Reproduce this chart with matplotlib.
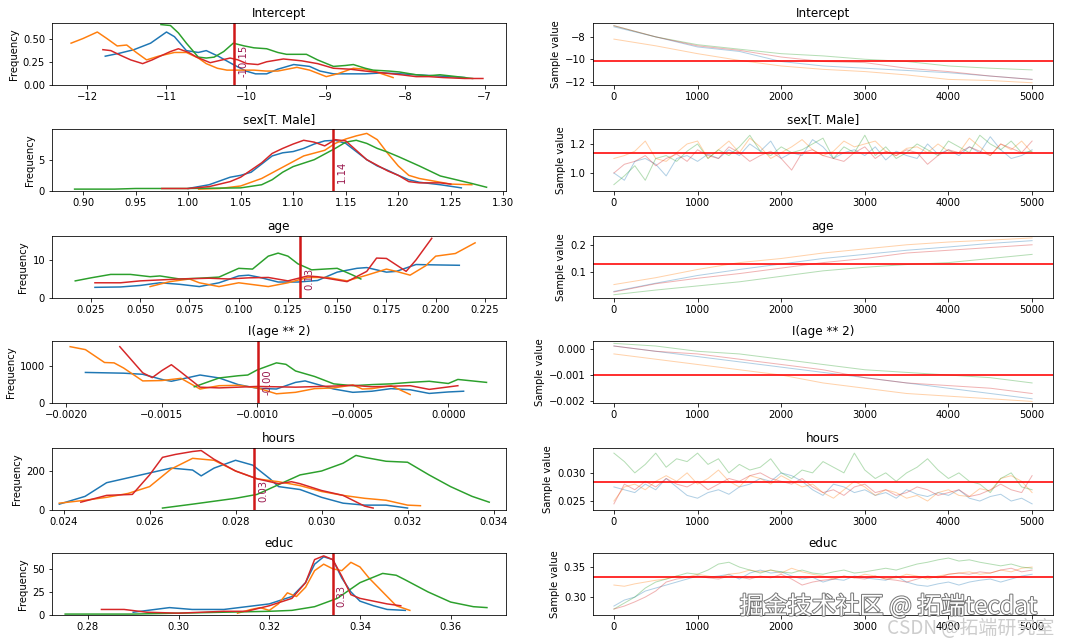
import numpy as np
import matplotlib.pyplot as plt
import matplotlib.patheffects as pe

# variable names and posterior means
names = ['Intercept', 'sex[T. Male]', 'age', 'I(age ** 2)', 'hours', 'educ']
means = [-10.15, 1.138, 0.1312, -0.000994, 0.02844, 0.334]
labels = ['-10.15', '1.14', '0.13', '-0.00', '0.03', '0.33']
colors = ['C0', 'C1', 'C2', 'C3']
age_ticks = [0.025, 0.050, 0.075, 0.100, 0.125, 0.150, 0.175, 0.200, 0.225]

# KDE curves, one (x, y) pair of lists per chain
intercept_kde = [
    ([-11.77, -11.6, -11.41, -11.2, -11.0, -10.9, -10.75, -10.6, -10.5, -10.35, -10.16, -10.0, -9.88, -9.74, -9.6, -9.4, -9.2, -9.07, -8.9, -8.69, -8.5, -8.28, -8.05, -7.86, -7.65, -7.45, -7.25],
     [0.31, 0.34, 0.38, 0.45, 0.57, 0.52, 0.37, 0.35, 0.37, 0.31, 0.22, 0.15, 0.12, 0.12, 0.17, 0.22, 0.20, 0.15, 0.12, 0.12, 0.12, 0.13, 0.12, 0.11, 0.10, 0.09, 0.08]),
    ([-12.2, -12.05, -11.87, -11.75, -11.62, -11.5, -11.38, -11.25, -11.1, -10.9, -10.75, -10.6, -10.5, -10.36, -10.24, -10.05, -9.9, -9.75, -9.6, -9.36, -9.2, -8.99, -8.85, -8.65, -8.5, -8.36, -8.15],
     [0.45, 0.50, 0.57, 0.50, 0.42, 0.43, 0.35, 0.27, 0.31, 0.35, 0.35, 0.29, 0.23, 0.18, 0.16, 0.16, 0.16, 0.15, 0.15, 0.19, 0.16, 0.09, 0.12, 0.18, 0.17, 0.14, 0.08]),
    ([-11.07, -10.95, -10.85, -10.75, -10.65, -10.6, -10.5, -10.4, -10.28, -10.16, -10.02, -9.9, -9.74, -9.6, -9.49, -9.36, -9.24, -9.1, -8.9, -8.75, -8.65, -8.5, -8.4, -8.2, -8.07, -7.86, -7.7, -7.56, -7.35, -7.15],
     [0.65, 0.64, 0.56, 0.45, 0.35, 0.30, 0.29, 0.30, 0.36, 0.45, 0.42, 0.40, 0.39, 0.35, 0.33, 0.33, 0.33, 0.27, 0.20, 0.21, 0.22, 0.18, 0.16, 0.15, 0.14, 0.11, 0.10, 0.11, 0.09, 0.07]),
    ([-11.8, -11.7, -11.58, -11.45, -11.3, -11.18, -11.08, -10.95, -10.85, -10.72, -10.62, -10.45, -10.3, -10.2, -10.1, -9.99, -9.85, -9.74, -9.6, -9.53, -9.3, -9.1, -8.9, -8.69, -8.5, -8.28, -8.05, -7.86, -7.7, -7.52, -7.25, -7.02],
     [0.38, 0.37, 0.32, 0.27, 0.23, 0.27, 0.31, 0.36, 0.39, 0.35, 0.30, 0.24, 0.27, 0.29, 0.27, 0.23, 0.22, 0.25, 0.27, 0.28, 0.26, 0.23, 0.18, 0.17, 0.15, 0.13, 0.11, 0.09, 0.09, 0.08, 0.07, 0.07]),
]
sex_kde = [
    ([1.00, 1.02, 1.03, 1.04, 1.05, 1.06, 1.07, 1.08, 1.09, 1.10, 1.11, 1.12, 1.13, 1.14, 1.15, 1.16, 1.17, 1.18, 1.19, 1.20, 1.21, 1.22, 1.24, 1.26],
     [0.4, 1.0, 1.6, 2.2, 2.5, 3.0, 4.3, 5.6, 6.1, 6.3, 6.8, 7.5, 8.0, 8.1, 7.6, 6.3, 5.0, 4.0, 3.3, 2.5, 1.8, 1.4, 1.0, 0.5]),
    ([1.01, 1.03, 1.05, 1.07, 1.09, 1.11, 1.13, 1.14, 1.15, 1.16, 1.17, 1.18, 1.19, 1.20, 1.21, 1.22, 1.24, 1.25, 1.27],
     [0.3, 0.4, 0.8, 2.0, 3.8, 5.6, 6.5, 7.6, 8.3, 8.8, 9.2, 8.2, 6.0, 4.0, 2.5, 2.0, 1.4, 1.1, 1.0]),
    ([0.892, 0.91, 0.93, 0.95, 1.00, 1.05, 1.07, 1.08, 1.09, 1.10, 1.12, 1.14, 1.15, 1.16, 1.17, 1.18, 1.19, 1.20, 1.22, 1.24, 1.26, 1.27, 1.284],
     [0.3, 0.3, 0.3, 0.4, 0.4, 0.5, 1.0, 1.8, 3.0, 3.9, 5.0, 6.8, 7.8, 8.1, 7.6, 6.8, 6.2, 5.5, 4.0, 2.4, 1.6, 1.2, 0.6]),
    ([0.975, 1.00, 1.02, 1.04, 1.05, 1.07, 1.08, 1.09, 1.10, 1.11, 1.12, 1.13, 1.14, 1.15, 1.16, 1.17, 1.18, 1.19, 1.20, 1.21, 1.22, 1.24, 1.25],
     [0.4, 0.4, 0.7, 1.5, 2.2, 4.5, 6.0, 6.8, 7.5, 8.1, 7.8, 7.2, 8.2, 8.0, 6.5, 5.0, 4.1, 3.2, 2.5, 1.5, 1.3, 1.3, 1.1]),
]
age_kde = [
    ([0.027, 0.04, 0.05, 0.06, 0.07, 0.08, 0.09, 0.10, 0.105, 0.11, 0.12, 0.13, 0.14, 0.15, 0.16, 0.165, 0.175, 0.18, 0.19, 0.20, 0.212],
     [2.8, 2.9, 3.3, 4.0, 3.6, 3.0, 4.0, 5.8, 6.0, 5.5, 4.2, 4.2, 4.6, 6.8, 7.8, 8.0, 6.8, 7.0, 8.8, 8.7, 8.6]),
    ([0.055, 0.065, 0.075, 0.08, 0.09, 0.10, 0.115, 0.125, 0.135, 0.145, 0.155, 0.165, 0.175, 0.18, 0.187, 0.195, 0.20, 0.21, 0.22],
     [3.0, 4.3, 5.0, 4.0, 3.0, 4.0, 3.0, 4.0, 5.4, 5.4, 4.5, 6.0, 7.6, 7.0, 6.0, 8.5, 11.0, 11.7, 14.5]),
    ([0.017, 0.025, 0.035, 0.045, 0.055, 0.06, 0.07, 0.08, 0.09, 0.10, 0.107, 0.115, 0.12, 0.125, 0.13, 0.137, 0.15, 0.158, 0.162],
     [4.5, 5.3, 6.2, 6.2, 5.6, 5.8, 5.0, 5.2, 5.5, 7.8, 7.6, 11.0, 11.8, 11.0, 9.0, 7.4, 7.8, 6.0, 5.0]),
    ([0.027, 0.04, 0.05, 0.07, 0.085, 0.095, 0.105, 0.115, 0.125, 0.135, 0.14, 0.155, 0.165, 0.17, 0.175, 0.185, 0.19, 0.198],
     [4.0, 4.0, 4.5, 5.0, 5.2, 5.0, 5.3, 5.4, 4.5, 5.8, 5.6, 4.3, 7.0, 10.5, 10.4, 7.0, 10.0, 15.7]),
]
agesq_kde = [
    ([-0.0019, -0.0017, -0.0016, -0.0015, -0.00145, -0.0013, -0.0012, -0.0011, -0.001, -0.0009, -0.0008, -0.00075, -0.0006, -0.0005, -0.0004, -0.0003, -0.0002, -0.0001, 0.0, 0.00008],
     [830, 810, 780, 640, 590, 760, 680, 500, 400, 380, 560, 600, 380, 290, 320, 390, 360, 260, 300, 320]),
    ([-0.00198, -0.0019, -0.0018, -0.00175, -0.0017, -0.0016, -0.0015, -0.0014, -0.0013, -0.0012, -0.0011, -0.001, -0.0009, -0.0008, -0.0007, -0.0006, -0.0005, -0.00045, -0.0004, -0.0003, -0.0002],
     [1530, 1450, 1100, 1090, 950, 600, 610, 670, 380, 470, 480, 410, 250, 290, 390, 410, 490, 380, 390, 470, 230]),
    ([-0.00133, -0.0012, -0.0011, -0.00105, -0.001, -0.0009, -0.00085, -0.0008, -0.0007, -0.0006, -0.0005, -0.0004, -0.0003, -0.0002, -0.0001, 0.0, 0.00005, 0.0002],
     [440, 680, 740, 760, 900, 1090, 1050, 870, 720, 520, 470, 500, 520, 560, 590, 530, 640, 560]),
    ([-0.00172, -0.0016, -0.00155, -0.0015, -0.00145, -0.0014, -0.0013, -0.0012, -0.001, -0.0008, -0.0006, -0.0005, -0.0004, -0.0002, -0.0001, 0.00005],
     [1530, 820, 690, 880, 1040, 840, 430, 410, 450, 430, 460, 480, 440, 470, 370, 470]),
]
hours_kde = [
    ([0.0239, 0.0245, 0.0250, 0.0255, 0.026, 0.0265, 0.027, 0.0272, 0.0275, 0.028, 0.0284, 0.0288, 0.029, 0.0295, 0.030, 0.0305, 0.031, 0.0315, 0.032],
     [30, 70, 140, 165, 190, 215, 205, 175, 215, 255, 230, 160, 120, 105, 65, 35, 25, 25, 10]),
    ([0.0239, 0.0245, 0.025, 0.0255, 0.026, 0.0265, 0.027, 0.0275, 0.028, 0.0285, 0.029, 0.0295, 0.030, 0.0305, 0.031, 0.0315, 0.032, 0.0323],
     [35, 50, 65, 85, 120, 210, 265, 255, 200, 160, 145, 125, 95, 75, 60, 50, 25, 22]),
    ([0.0263, 0.027, 0.0275, 0.028, 0.0285, 0.029, 0.0295, 0.030, 0.0305, 0.0308, 0.031, 0.0315, 0.032, 0.0325, 0.033, 0.0335, 0.0339],
     [10, 30, 45, 60, 80, 130, 180, 200, 240, 280, 270, 250, 245, 180, 120, 70, 40]),
    ([0.0244, 0.025, 0.0256, 0.026, 0.0263, 0.0266, 0.027, 0.0272, 0.0275, 0.028, 0.0285, 0.029, 0.0293, 0.0295, 0.030, 0.0305, 0.031, 0.0312],
     [40, 75, 80, 180, 270, 285, 300, 305, 260, 200, 160, 135, 145, 135, 100, 75, 20, 10]),
]
educ_kde = [
    ([0.29, 0.298, 0.303, 0.31, 0.315, 0.32, 0.325, 0.328, 0.33, 0.332, 0.334, 0.336, 0.338, 0.34, 0.343, 0.346, 0.35],
     [3, 8, 6, 6, 9, 12, 20, 35, 55, 63, 60, 40, 25, 15, 10, 6, 5]),
    ([0.313, 0.316, 0.318, 0.32, 0.322, 0.324, 0.326, 0.328, 0.33, 0.332, 0.334, 0.336, 0.338, 0.34, 0.342, 0.344, 0.346, 0.348, 0.351],
     [2, 6, 8, 5, 12, 24, 20, 30, 48, 55, 50, 48, 57, 52, 40, 30, 20, 10, 5]),
    ([0.275, 0.29, 0.30, 0.31, 0.32, 0.325, 0.33, 0.335, 0.34, 0.345, 0.348, 0.35, 0.355, 0.36, 0.365, 0.368],
     [1, 1, 2, 3, 4, 5, 9, 18, 35, 45, 43, 38, 25, 14, 9, 8]),
    ([0.283, 0.288, 0.293, 0.30, 0.305, 0.31, 0.315, 0.32, 0.325, 0.328, 0.33, 0.332, 0.334, 0.336, 0.338, 0.34, 0.343, 0.346, 0.349],
     [6, 6, 3, 2, 3, 4, 4, 10, 18, 35, 60, 64, 60, 42, 22, 18, 15, 12, 10]),
]

# traces, sampled every 500 draws (smooth drifts)
intercept_tr = [
    [-7.1, -8.0, -8.9, -9.3, -10.2, -10.6, -10.8, -11.0, -11.2, -11.5, -11.8],
    [-8.2, -8.8, -9.5, -10.1, -10.6, -10.9, -11.1, -11.4, -11.8, -11.9, -12.1],
    [-7.0, -8.0, -8.7, -9.1, -9.5, -9.7, -10.0, -10.2, -10.6, -10.8, -10.95],
    [-7.0, -8.0, -8.8, -9.2, -9.8, -10.2, -10.3, -10.8, -11.1, -11.5, -11.8],
]
age_tr = [
    [0.030, 0.060, 0.088, 0.110, 0.130, 0.150, 0.165, 0.180, 0.192, 0.205, 0.215],
    [0.055, 0.080, 0.110, 0.135, 0.150, 0.170, 0.185, 0.200, 0.210, 0.217, 0.225],
    [0.018, 0.035, 0.050, 0.065, 0.085, 0.105, 0.118, 0.128, 0.135, 0.150, 0.165],
    [0.028, 0.058, 0.078, 0.095, 0.115, 0.135, 0.150, 0.170, 0.180, 0.190, 0.200],
]
agesq_tr = [
    [0.0001, -0.0001, -0.0003, -0.0005, -0.0007, -0.0009, -0.0011, -0.0013, -0.0015, -0.0017, -0.0019],
    [-0.0002, -0.0004, -0.0006, -0.0008, -0.0010, -0.0013, -0.0015, -0.0017, -0.0018, -0.0019, -0.0020],
    [0.0002, 0.0001, -0.0001, -0.0002, -0.0004, -0.0006, -0.0008, -0.0009, -0.0010, -0.0011, -0.0013],
    [0.0001, -0.0001, -0.0002, -0.0004, -0.0006, -0.0008, -0.0011, -0.0013, -0.0014, -0.0015, -0.0017],
]
# traces, sampled every 125 draws (noisy chains)
sex_tr = [
    [1.00, 0.95, 1.08, 1.10, 1.06, 0.98, 1.10, 1.12, 1.08, 1.13, 1.10, 1.16, 1.12, 1.20, 1.15, 1.22, 1.10, 1.14, 1.12, 1.23, 1.18, 1.10, 1.14, 1.16, 1.12, 1.18, 1.09, 1.15, 1.12, 1.10, 1.20, 1.13, 1.16, 1.12, 1.18, 1.14, 1.25, 1.16, 1.10, 1.12, 1.16],
    [1.10, 1.12, 1.15, 1.22, 1.10, 1.08, 1.14, 1.20, 1.22, 1.10, 1.16, 1.22, 1.14, 1.24, 1.18, 1.10, 1.14, 1.18, 1.23, 1.16, 1.12, 1.15, 1.22, 1.18, 1.20, 1.22, 1.15, 1.12, 1.17, 1.18, 1.14, 1.20, 1.15, 1.14, 1.24, 1.18, 1.12, 1.20, 1.16, 1.22, 1.14],
    [0.92, 0.98, 1.05, 0.95, 1.10, 1.12, 1.08, 1.15, 1.20, 1.10, 1.16, 1.12, 1.18, 1.26, 1.15, 1.12, 1.18, 1.14, 1.16, 1.20, 1.24, 1.10, 1.18, 1.14, 1.26, 1.12, 1.18, 1.10, 1.14, 1.20, 1.16, 1.12, 1.22, 1.18, 1.14, 1.26, 1.20, 1.16, 1.22, 1.14, 1.15],
    [1.00, 1.06, 1.08, 1.12, 1.05, 1.10, 1.13, 1.08, 1.16, 1.12, 1.10, 1.18, 1.14, 1.08, 1.12, 1.15, 1.10, 1.02, 1.14, 1.16, 1.12, 1.10, 1.08, 1.14, 1.18, 1.10, 1.15, 1.12, 1.16, 1.14, 1.06, 1.12, 1.16, 1.14, 1.18, 1.15, 1.12, 1.20, 1.17, 1.14, 1.22],
]
hours_tr = [
    [0.0275, 0.0270, 0.0265, 0.0280, 0.0270, 0.0290, 0.0275, 0.0260, 0.0255, 0.0265, 0.0270, 0.0262, 0.0275, 0.0280, 0.0290, 0.0285, 0.0300, 0.0295, 0.0285, 0.0270, 0.0260, 0.0280, 0.0275, 0.0265, 0.0270, 0.0260, 0.0265, 0.0255, 0.0270, 0.0262, 0.0258, 0.0265, 0.0260, 0.0270, 0.0255, 0.0250, 0.0258, 0.0262, 0.0250, 0.0255, 0.0245],
    [0.0250, 0.0275, 0.0280, 0.0270, 0.0285, 0.0295, 0.0285, 0.0300, 0.0280, 0.0290, 0.0305, 0.0285, 0.0275, 0.0295, 0.0290, 0.0280, 0.0295, 0.0285, 0.0275, 0.0280, 0.0265, 0.0255, 0.0270, 0.0285, 0.0275, 0.0260, 0.0270, 0.0265, 0.0255, 0.0260, 0.0250, 0.0265, 0.0270, 0.0260, 0.0258, 0.0272, 0.0268, 0.0290, 0.0295, 0.0285, 0.0265],
    [0.0335, 0.0320, 0.0300, 0.0315, 0.0335, 0.0310, 0.0325, 0.0320, 0.0335, 0.0315, 0.0325, 0.0300, 0.0315, 0.0305, 0.0310, 0.0325, 0.0300, 0.0290, 0.0305, 0.0300, 0.0320, 0.0310, 0.0300, 0.0335, 0.0305, 0.0290, 0.0300, 0.0285, 0.0300, 0.0310, 0.0325, 0.0305, 0.0290, 0.0300, 0.0285, 0.0280, 0.0265, 0.0290, 0.0300, 0.0275, 0.0270],
    [0.0245, 0.0280, 0.0270, 0.0285, 0.0275, 0.0290, 0.0280, 0.0275, 0.0285, 0.0270, 0.0280, 0.0290, 0.0285, 0.0295, 0.0300, 0.0290, 0.0285, 0.0280, 0.0290, 0.0275, 0.0265, 0.0270, 0.0260, 0.0275, 0.0280, 0.0265, 0.0270, 0.0260, 0.0265, 0.0275, 0.0270, 0.0260, 0.0265, 0.0270, 0.0258, 0.0262, 0.0270, 0.0280, 0.0270, 0.0265, 0.0295],
]
educ_tr = [
    [0.285, 0.295, 0.300, 0.310, 0.315, 0.320, 0.325, 0.330, 0.335, 0.333, 0.335, 0.338, 0.330, 0.340, 0.345, 0.340, 0.342, 0.335, 0.330, 0.333, 0.325, 0.330, 0.328, 0.335, 0.332, 0.330, 0.328, 0.335, 0.325, 0.320, 0.318, 0.322, 0.325, 0.320, 0.325, 0.328, 0.330, 0.325, 0.330, 0.335, 0.338],
    [0.320, 0.318, 0.322, 0.325, 0.328, 0.330, 0.335, 0.333, 0.338, 0.335, 0.332, 0.338, 0.340, 0.345, 0.342, 0.345, 0.340, 0.348, 0.342, 0.338, 0.335, 0.330, 0.335, 0.332, 0.338, 0.335, 0.330, 0.332, 0.338, 0.335, 0.330, 0.335, 0.338, 0.340, 0.342, 0.338, 0.340, 0.345, 0.342, 0.348, 0.350],
    [0.280, 0.290, 0.300, 0.315, 0.325, 0.330, 0.335, 0.340, 0.338, 0.345, 0.355, 0.358, 0.350, 0.345, 0.340, 0.345, 0.342, 0.340, 0.345, 0.340, 0.338, 0.342, 0.345, 0.340, 0.342, 0.345, 0.348, 0.345, 0.350, 0.355, 0.358, 0.362, 0.365, 0.360, 0.362, 0.358, 0.355, 0.352, 0.355, 0.350, 0.348],
    [0.280, 0.285, 0.292, 0.300, 0.310, 0.325, 0.330, 0.333, 0.335, 0.332, 0.330, 0.335, 0.333, 0.330, 0.335, 0.332, 0.338, 0.330, 0.320, 0.325, 0.328, 0.330, 0.335, 0.332, 0.330, 0.335, 0.330, 0.328, 0.325, 0.330, 0.335, 0.332, 0.338, 0.340, 0.338, 0.342, 0.340, 0.345, 0.348, 0.342, 0.345],
]

kdes = [intercept_kde, sex_kde, age_kde, agesq_kde, hours_kde, educ_kde]
traces = [intercept_tr, sex_tr, age_tr, agesq_tr, hours_tr, educ_tr]
kde_xlim = [(-12.44, -6.73), (0.8705, 1.3025), (0.0052, 0.2357), (-0.002075, 0.000302), (0.02373, 0.03429), (0.2721, 0.3722)]
kde_ylim = [(0, 0.667), (0, 9.9), (0, 16.3), (0, 1684), (0, 318), (0, 67.1)]
tr_ylim = [(-12.3, -6.76), (0.876, 1.303), (0.006, 0.232), (-0.00206, 0.00029), (0.02341, 0.03441), (0.2701, 0.3734)]

fig = plt.figure(figsize=(1072/72, 640/72), dpi=72)
W, H = 1072, 640
tops = [23, 129, 236, 341, 448, 553]

for i in range(6):
    y0 = 1 - (tops[i] + 62) / H
    axk = fig.add_axes([52/W, y0, 454/W, 62/H])
    axt = fig.add_axes([593/W, y0, 460/W, 62/H])

    for (xs, ys), c in zip(kdes[i], colors):
        axk.plot(xs, ys, color=c)
    if names[i] == 'age':
        axk.set_xticks(age_ticks)
    axk.set_xlim(kde_xlim[i])
    axk.set_ylim(kde_ylim[i])
    axk.axvline(means[i], color='#d01818', lw=2.5)
    axk.annotate(labels[i], xy=(means[i], 0), xycoords=('data', 'axes fraction'),
                 xytext=(4, 8), textcoords='offset points', rotation=90,
                 ha='left', va='bottom', color='#9b1a4f', fontsize=10)
    axk.set_title(names[i])
    axk.set_ylabel('Frequency')

    for tr, c in zip(traces[i], colors):
        draws = np.linspace(0, 5000, len(tr))
        axt.plot(draws, tr, color=c, alpha=0.35, lw=1)
    axt.axhline(means[i], color='r', alpha=0.8, lw=2)
    axt.set_xlim(-250, 5250)
    axt.set_ylim(tr_ylim[i])
    axt.set_title(names[i])
    axt.set_ylabel('Sample value')

# watermarks from the source page
fig.text(0.69, 0.052, '掘金技术社区 @ 拓端tecdat', family=['Noto Sans CJK SC', 'DejaVu Sans'],
         fontsize=24, color='white', va='center',
         path_effects=[pe.withStroke(linewidth=2, foreground='#777777')])
fig.text(0.827, 0.018, 'CSDN @拓端研究室', family=['Noto Sans CJK SC', 'DejaVu Sans'],
         fontsize=19, color='#c8c8c8', va='center', alpha=0.9)

fig.savefig('out.png', dpi=72)
